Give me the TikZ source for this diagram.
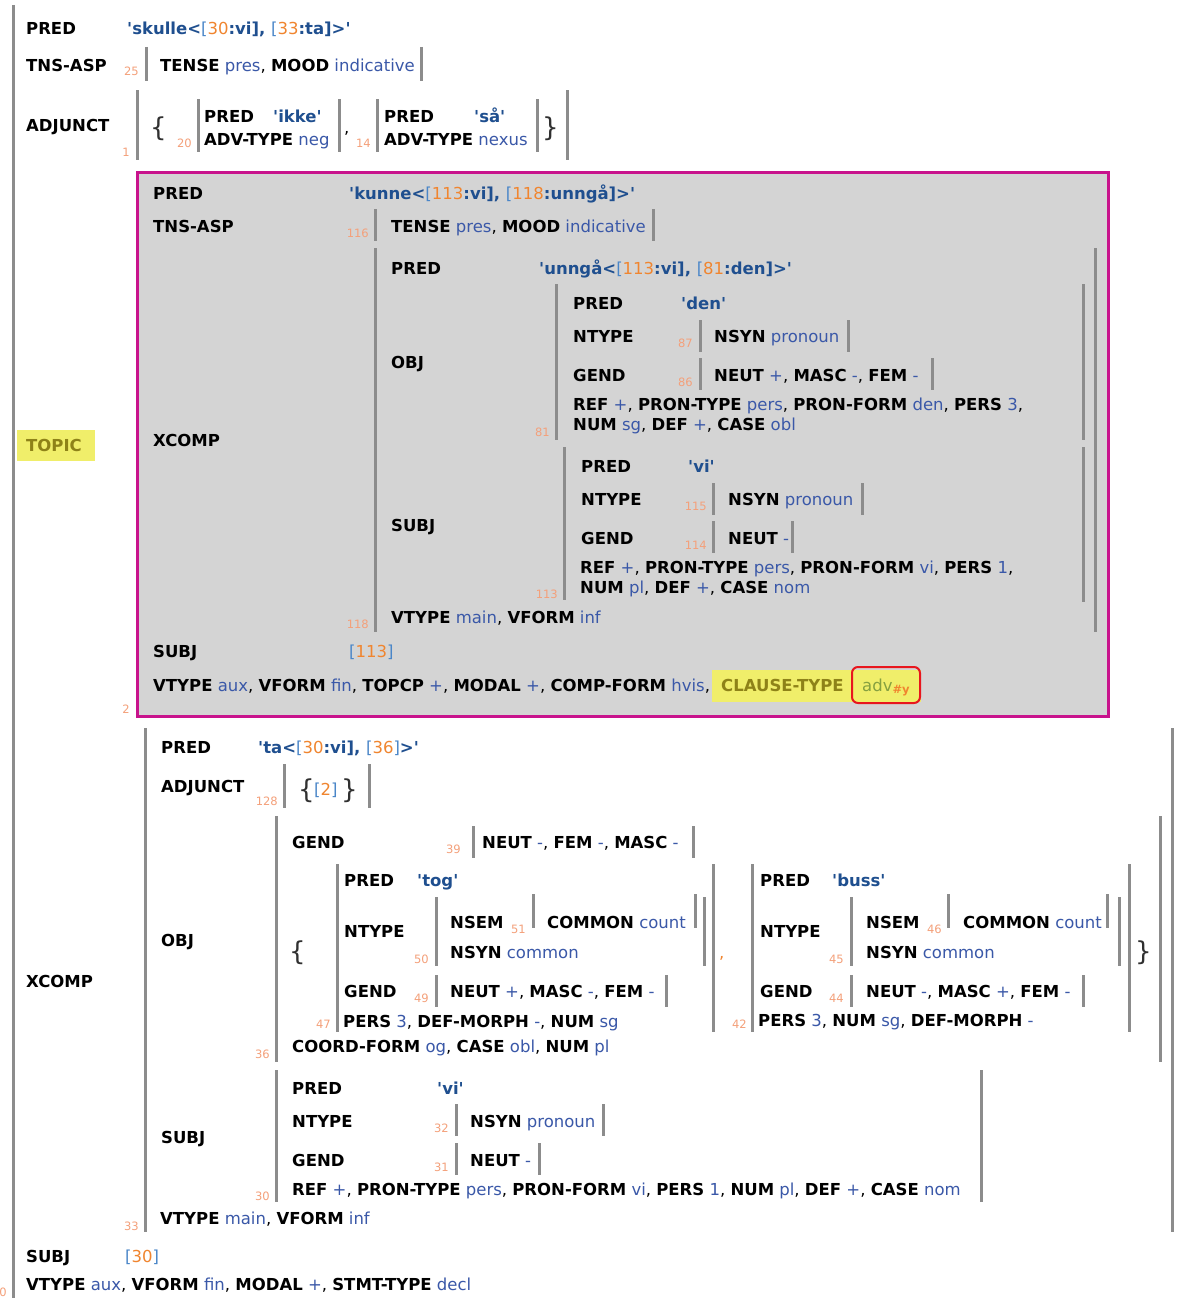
\documentclass[tikz,border=0pt]{standalone}
\usepackage{fontspec}
\setmainfont{DejaVu Sans}
\definecolor{barcol}{HTML}{8C8C8C}
\definecolor{valcol}{HTML}{3A58A8}
\definecolor{predcol}{HTML}{1F4F8F}
\definecolor{brcol}{HTML}{4A86C8}
\definecolor{numcol}{HTML}{F0852F}
\definecolor{idxcol}{HTML}{F4A07A}
\definecolor{boxfill}{HTML}{D4D4D4}
\definecolor{boxedge}{HTML}{C8138C}
\definecolor{hlfill}{HTML}{F0EE6A}
\definecolor{hltext}{HTML}{8E8218}
\definecolor{advcol}{HTML}{86A040}
\definecolor{ringcol}{HTML}{E8161E}
\definecolor{bracecol}{HTML}{303030}
% attribute names, atomic values, semantic forms, f-structure numbers
\newcommand\fsatt[1]{\textbf{#1}}
\newcommand\fsval[1]{\textcolor{valcol}{#1}}
\newcommand\fspred[1]{\textcolor{predcol}{\textbf{#1}}}
\newcommand\fsnum[1]{\textcolor{numcol}{#1}}
\newcommand\fsq{\textquotesingle}
\newcommand\fslb{\textcolor{brcol}{[}}
\newcommand\fsrb{\textcolor{brcol}{]}}
\newcommand\fsbar[3]{\draw[bar] (#1,#2) -- (#1,#3);}
\begin{document}
\begin{tikzpicture}[x=1pt,y=-1pt,
  txt/.style={anchor=base west,inner sep=0pt,font=\fontsize{16.5}{19}\selectfont},
  idx/.style={anchor=base east,inner sep=0pt,text=idxcol,font=\fontsize{11.5}{13}\selectfont},
  brace/.style={anchor=base west,inner sep=0pt,text=bracecol,font=\fontsize{26}{28}\selectfont},
  bar/.style={draw=barcol,line width=3pt}]
\useasboundingbox (0,0) rectangle (1182,1298);
\fill[white] (0,0) rectangle (1182,1298);

% ---------- outer f-structure ----------
\fsbar{13}{5}{1298}
\node[idx] (i0) at (7,1296) {0};
\node[txt] (p0) at (26,35) {\fsatt{PRED}};
\node[txt] (p0v) at (127,35) {\fspred{\fsq skulle<}\fslb\fsnum{30}\fspred{:vi], }\fslb\fsnum{33}\fspred{:ta]>\fsq}};
\node[txt] (t0) at (26,71) {\fsatt{TNS-ASP}};
\node[idx] (i25) at (139,76) {25};
\fsbar{146}{47}{81}
\node[txt] (t0v) at (160,71) {\fsatt{TENSE} \fsval{pres}, \fsatt{MOOD} \fsval{indicative}};
\fsbar{421}{47}{81}
\node[txt] (a0) at (26,131) {\fsatt{ADJUNCT}};
\node[idx] (i1) at (130,156) {1};
\fsbar{137}{90}{160}
\node[brace] (a0l) at (150,136) {\{};
\node[idx] (i20) at (192,147) {20};
\fsbar{198}{99}{152}
\node[txt] (ik1) at (204,122) {\fsatt{PRED}};
\node[txt] (ik2) at (273,122) {\fspred{\fsq ikke\fsq}};
\node[txt] (ik3) at (204,145) {\fsatt{ADV-TYPE} \fsval{neg}};
\fsbar{339}{99}{152}
\node[txt] (a0c) at (344,133) {,};
\node[idx] (i14) at (371,147) {14};
\fsbar{377}{99}{152}
\node[txt] (sa1) at (384,122) {\fsatt{PRED}};
\node[txt] (sa2) at (474,122) {\fspred{\fsq så\fsq}};
\node[txt] (sa3) at (384,145) {\fsatt{ADV-TYPE} \fsval{nexus}};
\fsbar{537}{99}{152}
\node[brace] (a0r) at (542,136) {\}};
\fsbar{567}{90}{160}

% ---------- TOPIC ----------
\fill[hlfill] (17,430) rectangle (95,461);
\node[txt,text=hltext] (top) at (26,451) {\textbf{TOPIC}};
\draw[boxedge,line width=3pt,fill=boxfill] (137,172) rectangle (1108,716);
\node[idx] (i2) at (130,713) {2};
\node[txt] (k1) at (153,199) {\fsatt{PRED}};
\node[txt] (k1v) at (349,199) {\fspred{\fsq kunne<}\fslb\fsnum{113}\fspred{:vi], }\fslb\fsnum{118}\fspred{:unngå]>\fsq}};
\node[txt] (k2) at (153,232) {\fsatt{TNS-ASP}};
\node[idx] (i116) at (369,237) {116};
\fsbar{375}{209}{241}
\node[txt] (k2v) at (391,232) {\fsatt{TENSE} \fsval{pres}, \fsatt{MOOD} \fsval{indicative}};
\fsbar{653}{209}{241}
\node[txt] (k3) at (153,446) {\fsatt{XCOMP}};
\fsbar{375}{248}{632}
\node[idx] (i118) at (369,628) {118};
\node[txt] (u1) at (391,274) {\fsatt{PRED}};
\node[txt] (u1v) at (539,274) {\fspred{\fsq unngå<}\fslb\fsnum{113}\fspred{:vi], }\fslb\fsnum{81}\fspred{:den]>\fsq}};
\node[txt] (u2) at (391,368) {\fsatt{OBJ}};
\fsbar{556}{284}{440}
\node[idx] (i81) at (550,436) {81};
\node[txt] (d1) at (573,309) {\fsatt{PRED}};
\node[txt] (d1v) at (681,309) {\fspred{\fsq den\fsq}};
\node[txt] (d2) at (573,342) {\fsatt{NTYPE}};
\node[idx] (i87) at (693,347) {87};
\fsbar{700}{320}{352}
\node[txt] (d2v) at (714,342) {\fsatt{NSYN} \fsval{pronoun}};
\fsbar{848}{320}{352}
\node[txt] (d3) at (573,381) {\fsatt{GEND}};
\node[idx] (i86) at (693,386) {86};
\fsbar{700}{358}{390}
\node[txt] (d3v) at (714,381) {\fsatt{NEUT} \fsval{+}, \fsatt{MASC} \fsval{-}, \fsatt{FEM} \fsval{-}};
\fsbar{932}{358}{390}
\node[txt] (d4) at (573,410) {\fsatt{REF} \fsval{+}, \fsatt{PRON-TYPE} \fsval{pers}, \fsatt{PRON-FORM} \fsval{den}, \fsatt{PERS} \fsval{3},};
\node[txt] (d5) at (573,430) {\fsatt{NUM} \fsval{sg}, \fsatt{DEF} \fsval{+}, \fsatt{CASE} \fsval{obl}};
\fsbar{1083}{284}{440}
\node[txt] (u3) at (391,531) {\fsatt{SUBJ}};
\fsbar{564}{447}{600}
\node[idx] (i113) at (558,598) {113};
\node[txt] (v1) at (581,472) {\fsatt{PRED}};
\node[txt] (v1v) at (688,472) {\fspred{\fsq vi\fsq}};
\node[txt] (v2) at (581,505) {\fsatt{NTYPE}};
\node[idx] (i115) at (707,510) {115};
\fsbar{713}{483}{515}
\node[txt] (v2v) at (728,505) {\fsatt{NSYN} \fsval{pronoun}};
\fsbar{862}{483}{515}
\node[txt] (v3) at (581,544) {\fsatt{GEND}};
\node[idx] (i114) at (707,549) {114};
\fsbar{713}{521}{553}
\node[txt] (v3v) at (728,544) {\fsatt{NEUT} \fsval{-}};
\fsbar{792}{521}{553}
\node[txt] (v4) at (580,573) {\fsatt{REF} \fsval{+}, \fsatt{PRON-TYPE} \fsval{pers}, \fsatt{PRON-FORM} \fsval{vi}, \fsatt{PERS} \fsval{1},};
\node[txt] (v5) at (580,593) {\fsatt{NUM} \fsval{pl}, \fsatt{DEF} \fsval{+}, \fsatt{CASE} \fsval{nom}};
\fsbar{1083}{447}{602}
\node[txt] (u4) at (391,623) {\fsatt{VTYPE} \fsval{main}, \fsatt{VFORM} \fsval{inf}};
\fsbar{1095}{248}{632}
\node[txt] (k4) at (153,657) {\fsatt{SUBJ}};
\node[txt] (k4v) at (349,657) {\fslb\fsnum{113}\fsrb};
\fill[hlfill] (712,670) rectangle (921,702);
\node[txt] (k5) at (153,691) {\fsatt{VTYPE} \fsval{aux}, \fsatt{VFORM} \fsval{fin}, \fsatt{TOPCP} \fsval{+}, \fsatt{MODAL} \fsval{+}, \fsatt{COMP-FORM} \fsval{hvis},};
\node[txt,text=hltext] (k6) at (721,691) {\textbf{CLAUSE-TYPE}};
\node[txt,text=advcol] (k6v) at (862,691) {adv\textsubscript{\textcolor{numcol}{\textbf{\#y}}}};
\draw[ringcol,line width=2pt,rounded corners=6pt] (852,667) rectangle (920,703);

% ---------- XCOMP ----------
\node[txt] (x0) at (26,987) {\fsatt{XCOMP}};
\fsbar{145}{728}{1232}
\node[idx] (i33) at (139,1230) {33};
\fsbar{1172}{728}{1232}
\node[txt] (x1) at (161,753) {\fsatt{PRED}};
\node[txt] (x1v) at (258,753) {\fspred{\fsq ta<}\fslb\fsnum{30}\fspred{:vi], }\fslb\fsnum{36}\fsrb\fspred{>\fsq}};
\node[txt] (x2) at (161,792) {\fsatt{ADJUNCT}};
\node[idx] (i128) at (278,805) {128};
\fsbar{284}{764}{808}
\node[brace] (x2l) at (298,798) {\{};
\node[txt] (x2v) at (314,795) {\fslb\fsnum{2}\fsrb};
\node[brace] (x2r) at (341,798) {\}};
\fsbar{369}{764}{808}
\node[txt] (x3) at (161,946) {\fsatt{OBJ}};
\fsbar{276}{816}{1062}
\node[idx] (i36) at (270,1058) {36};
\node[txt] (o1) at (292,848) {\fsatt{GEND}};
\node[idx] (i39) at (461,853) {39};
\fsbar{473}{826}{858}
\node[txt] (o1v) at (482,848) {\fsatt{NEUT} \fsval{-}, \fsatt{FEM} \fsval{-}, \fsatt{MASC} \fsval{-}};
\fsbar{693}{826}{858}
\node[brace] (ol) at (289,960) {\{};
% first conjunct
\fsbar{337}{864}{1032}
\node[idx] (i47) at (331,1028) {47};
\node[txt] (g1) at (344,886) {\fsatt{PRED}};
\node[txt] (g1v) at (417,886) {\fspred{\fsq tog\fsq}};
\node[txt] (g2) at (344,937) {\fsatt{NTYPE}};
\node[idx] (i50) at (429,963) {50};
\fsbar{436}{897}{966}
\node[txt] (g3) at (450,928) {\fsatt{NSEM}};
\node[idx] (i51) at (526,933) {51};
\fsbar{533}{894}{928}
\node[txt] (g3v) at (547,928) {\fsatt{COMMON} \fsval{count}};
\fsbar{695}{894}{928}
\node[txt] (g4) at (450,958) {\fsatt{NSYN} \fsval{common}};
\fsbar{704}{897}{966}
\node[txt] (g5) at (344,997) {\fsatt{GEND}};
\node[idx] (i49) at (429,1002) {49};
\fsbar{436}{975}{1007}
\node[txt] (g5v) at (450,997) {\fsatt{NEUT} \fsval{+}, \fsatt{MASC} \fsval{-}, \fsatt{FEM} \fsval{-}};
\fsbar{666}{975}{1007}
\node[txt] (g6) at (343,1027) {\fsatt{PERS} \fsval{3}, \fsatt{DEF-MORPH} \fsval{-}, \fsatt{NUM} \fsval{sg}};
\fsbar{713}{864}{1032}
\node[txt,text=numcol] (oc) at (719,958) {,};
% second conjunct
\node[idx] (i42) at (747,1028) {42};
\fsbar{752}{864}{1032}
\node[txt] (b1) at (760,886) {\fsatt{PRED}};
\node[txt] (b1v) at (832,886) {\fspred{\fsq buss\fsq}};
\node[txt] (b2) at (760,937) {\fsatt{NTYPE}};
\node[idx] (i45) at (844,963) {45};
\fsbar{851}{897}{966}
\node[txt] (b3) at (866,928) {\fsatt{NSEM}};
\node[idx] (i46) at (942,933) {46};
\fsbar{948}{894}{928}
\node[txt] (b3v) at (963,928) {\fsatt{COMMON} \fsval{count}};
\fsbar{1107}{894}{928}
\node[txt] (b4) at (866,958) {\fsatt{NSYN} \fsval{common}};
\fsbar{1119}{897}{966}
\node[txt] (b5) at (760,997) {\fsatt{GEND}};
\node[idx] (i44) at (844,1002) {44};
\fsbar{851}{975}{1007}
\node[txt] (b5v) at (866,997) {\fsatt{NEUT} \fsval{-}, \fsatt{MASC} \fsval{+}, \fsatt{FEM} \fsval{-}};
\fsbar{1083}{975}{1007}
\node[txt] (b6) at (758,1026) {\fsatt{PERS} \fsval{3}, \fsatt{NUM} \fsval{sg}, \fsatt{DEF-MORPH} \fsval{-}};
\fsbar{1129}{864}{1032}
\node[brace] (or) at (1135,960) {\}};
\node[txt] (o2) at (292,1052) {\fsatt{COORD-FORM} \fsval{og}, \fsatt{CASE} \fsval{obl}, \fsatt{NUM} \fsval{pl}};
\fsbar{1160}{816}{1062}
% subject of ta
\node[txt] (s0) at (161,1143) {\fsatt{SUBJ}};
\fsbar{276}{1070}{1202}
\node[idx] (i30) at (270,1200) {30};
\node[txt] (s1) at (292,1094) {\fsatt{PRED}};
\node[txt] (s1v) at (437,1094) {\fspred{\fsq vi\fsq}};
\node[txt] (s2) at (292,1127) {\fsatt{NTYPE}};
\node[idx] (i32) at (449,1132) {32};
\fsbar{456}{1104}{1136}
\node[txt] (s2v) at (470,1127) {\fsatt{NSYN} \fsval{pronoun}};
\fsbar{603}{1104}{1136}
\node[txt] (s3) at (292,1166) {\fsatt{GEND}};
\node[idx] (i31) at (449,1171) {31};
\fsbar{456}{1143}{1175}
\node[txt] (s3v) at (470,1166) {\fsatt{NEUT} \fsval{-}};
\fsbar{539}{1143}{1175}
\node[txt] (s4) at (292,1195) {\fsatt{REF} \fsval{+}, \fsatt{PRON-TYPE} \fsval{pers}, \fsatt{PRON-FORM} \fsval{vi}, \fsatt{PERS} \fsval{1}, \fsatt{NUM} \fsval{pl}, \fsatt{DEF} \fsval{+}, \fsatt{CASE} \fsval{nom}};
\fsbar{981}{1070}{1202}
\node[txt] (x4) at (160,1224) {\fsatt{VTYPE} \fsval{main}, \fsatt{VFORM} \fsval{inf}};

% ---------- remaining outer features ----------
\node[txt] (r1) at (26,1262) {\fsatt{SUBJ}};
\node[txt] (r1v) at (125,1262) {\fslb\fsnum{30}\fsrb};
\node[txt] (r2) at (26,1290) {\fsatt{VTYPE} \fsval{aux}, \fsatt{VFORM} \fsval{fin}, \fsatt{MODAL} \fsval{+}, \fsatt{STMT-TYPE} \fsval{decl}};
\end{tikzpicture}
\end{document}
